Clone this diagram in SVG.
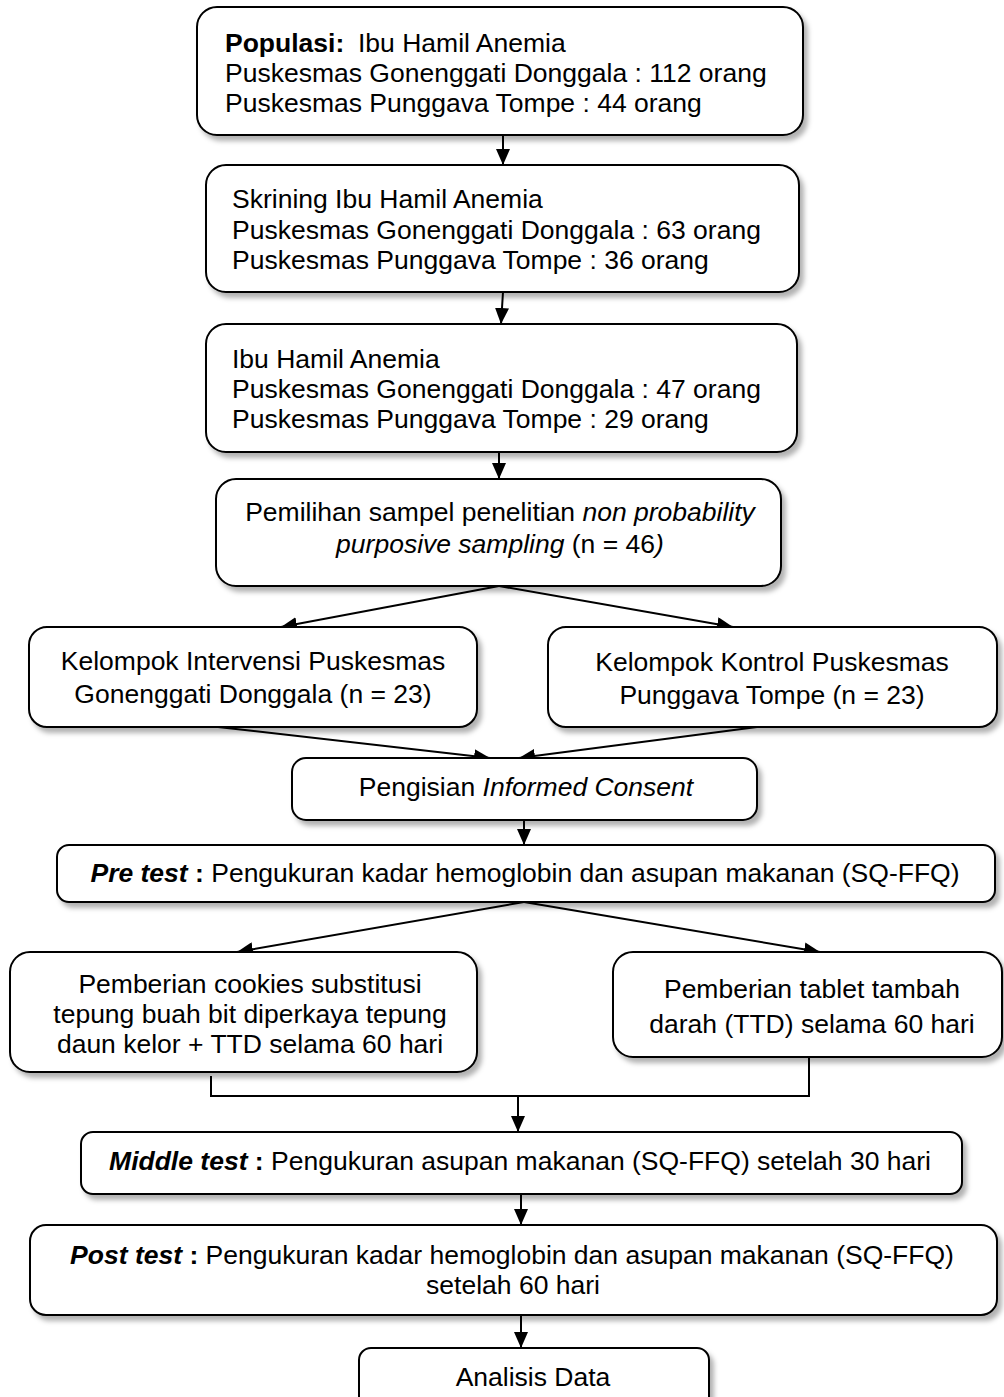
<svg xmlns="http://www.w3.org/2000/svg" width="1004" height="1397" viewBox="0 0 1004 1397">
<style>
  .box { fill: #fff; stroke: #000; stroke-width: 2; filter: url(#sh); }
  .t { font-family: "Liberation Sans", Arial, sans-serif; font-size: 26.5px; fill: #000; }
  .c { text-anchor: middle; }
  .b { font-weight: bold; }
  .i { font-style: italic; }
  .con { stroke: #000; stroke-width: 2; fill: none; }
  .arr { marker-end: url(#ah); }
</style>
<defs>
  <filter id="sh" x="-5%" y="-10%" width="115%" height="130%">
    <feDropShadow dx="4" dy="5" stdDeviation="2.5" flood-color="#000" flood-opacity="0.3"/>
  </filter>
  <marker id="ah" markerUnits="userSpaceOnUse" markerWidth="16" markerHeight="14" refX="16" refY="7" orient="auto">
    <path d="M0,0 L16,7 L0,14 z" fill="#000"/>
  </marker>
</defs>
<rect width="1004" height="1397" fill="#fff"/>

<g id="connectors">
  <line class="con arr" x1="503" y1="135" x2="503" y2="165"/>
  <line class="con arr" x1="503" y1="292" x2="501" y2="324"/>
  <line class="con arr" x1="499" y1="452" x2="499" y2="479"/>
  <line class="con arr" x1="499" y1="586" x2="281" y2="627"/>
  <line class="con arr" x1="499" y1="586" x2="733" y2="627"/>
  <line class="con arr" x1="218" y1="727" x2="490" y2="758"/>
  <line class="con arr" x1="757" y1="727" x2="519" y2="758"/>
  <line class="con arr" x1="524" y1="820" x2="524" y2="845"/>
  <line class="con arr" x1="524" y1="902" x2="237" y2="952"/>
  <line class="con arr" x1="524" y1="902" x2="820" y2="952"/>
  <polyline class="con" points="211,1076 211,1096 809,1096 809,1057"/>
  <line class="con arr" x1="518" y1="1096" x2="518" y2="1132"/>
  <line class="con arr" x1="521" y1="1194" x2="521" y2="1225"/>
  <line class="con arr" x1="521" y1="1315" x2="521" y2="1348"/>
</g>

<g id="populasi">
  <rect class="box" x="197" y="7" width="606" height="128" rx="20"/>
  <text class="t" x="225" y="52"><tspan class="b">Populasi:</tspan><tspan x="358">Ibu Hamil Anemia</tspan></text>
  <text class="t" x="225" y="82">Puskesmas Gonenggati Donggala : 112 orang</text>
  <text class="t" x="225" y="112">Puskesmas Punggava Tompe : 44 orang</text>
</g>

<g id="skrining">
  <rect class="box" x="206" y="165" width="593" height="127" rx="20"/>
  <text class="t" x="232" y="208">Skrining Ibu Hamil Anemia</text>
  <text class="t" x="232" y="239">Puskesmas Gonenggati Donggala : 63 orang</text>
  <text class="t" x="232" y="269">Puskesmas Punggava Tompe : 36 orang</text>
</g>

<g id="ibu-hamil">
  <rect class="box" x="206" y="324" width="591" height="128" rx="20"/>
  <text class="t" x="232" y="368">Ibu Hamil Anemia</text>
  <text class="t" x="232" y="398">Puskesmas Gonenggati Donggala : 47 orang</text>
  <text class="t" x="232" y="428">Puskesmas Punggava Tompe : 29 orang</text>
</g>

<g id="pemilihan">
  <rect class="box" x="216" y="479" width="565" height="107" rx="20"/>
  <text class="t c" x="500" y="521">Pemilihan sampel penelitian <tspan class="i">non probability</tspan></text>
  <text class="t c" x="500" y="553"><tspan class="i">purposive sampling</tspan> (n = 46<tspan class="i">)</tspan></text>
</g>

<g id="intervensi">
  <rect class="box" x="29" y="627" width="448" height="100" rx="18"/>
  <text class="t c" x="253" y="670">Kelompok Intervensi Puskesmas</text>
  <text class="t c" x="253" y="703">Gonenggati Donggala (n = 23)</text>
</g>

<g id="kontrol">
  <rect class="box" x="548" y="627" width="449" height="100" rx="18"/>
  <text class="t c" x="772" y="671">Kelompok Kontrol Puskesmas</text>
  <text class="t c" x="772" y="704">Punggava Tompe (n = 23)</text>
</g>

<g id="consent">
  <rect class="box" x="292" y="758" width="465" height="62" rx="14"/>
  <text class="t c" x="526" y="796">Pengisian <tspan class="i">Informed Consent</tspan></text>
</g>

<g id="pretest">
  <rect class="box" x="57" y="845" width="938" height="57" rx="12"/>
  <text class="t c" x="525" y="882"><tspan class="b i">Pre test</tspan><tspan class="b"> :</tspan> Pengukuran kadar hemoglobin dan asupan makanan (SQ-FFQ)</text>
</g>

<g id="cookies">
  <rect class="box" x="10" y="952" width="467" height="120" rx="20"/>
  <text class="t c" x="250" y="993">Pemberian cookies substitusi</text>
  <text class="t c" x="250" y="1023">tepung buah bit diperkaya tepung</text>
  <text class="t c" x="250" y="1053">daun kelor + TTD selama 60 hari</text>
</g>

<g id="ttd">
  <rect class="box" x="613" y="952" width="389" height="105" rx="20"/>
  <text class="t c" x="812" y="998">Pemberian tablet tambah</text>
  <text class="t c" x="812" y="1033">darah (TTD) selama 60 hari</text>
</g>

<g id="middletest">
  <rect class="box" x="81" y="1132" width="881" height="62" rx="12"/>
  <text class="t c" x="520" y="1170"><tspan class="b i">Middle test</tspan><tspan class="b"> :</tspan> Pengukuran asupan makanan (SQ-FFQ) setelah 30 hari</text>
</g>

<g id="posttest">
  <rect class="box" x="30" y="1225" width="967" height="90" rx="16"/>
  <text class="t c" x="512" y="1264"><tspan class="b i">Post test</tspan><tspan class="b"> :</tspan> Pengukuran kadar hemoglobin dan asupan makanan (SQ-FFQ)</text>
  <text class="t c" x="513" y="1294">setelah 60 hari</text>
</g>

<g id="analisis">
  <rect class="box" x="359" y="1348" width="350" height="70" rx="12"/>
  <text class="t c" x="533" y="1386">Analisis Data</text>
</g>
</svg>
